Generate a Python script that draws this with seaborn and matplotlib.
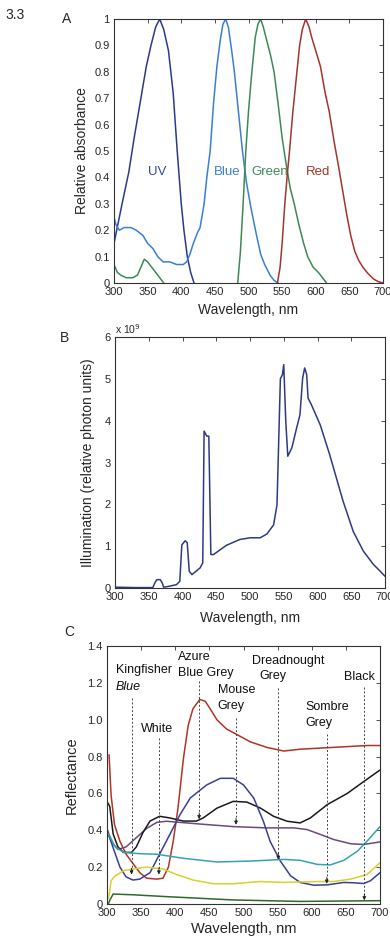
import matplotlib
matplotlib.use("Agg")
import matplotlib.pyplot as plt
import seaborn as sns
import pandas as pd

# ---------------- Panel A : relative absorbance ----------------
uv_nm = [300, 304, 312, 322, 330, 340, 348, 355, 362, 368, 374, 381, 388, 394, 400, 404, 409, 414, 419]
uv_val = [0.15, 0.2, 0.3, 0.42, 0.55, 0.7, 0.82, 0.9, 0.97, 1.0, 0.96, 0.88, 0.72, 0.5, 0.3, 0.2, 0.1, 0.04, 0.0]

blue_nm = [300, 303, 308, 315, 325, 333, 343, 350, 358, 365, 373, 383, 393, 403, 408, 413, 418, 424, 428,
           434, 438, 443, 448, 453, 458, 462, 466, 470, 475, 479, 485, 491, 497, 504, 512, 518, 524, 532, 538, 544]
blue_val = [0.25, 0.22, 0.2, 0.21, 0.21, 0.2, 0.18, 0.15, 0.13, 0.1, 0.08, 0.08, 0.07, 0.07, 0.08, 0.11, 0.15, 0.19, 0.21,
            0.3, 0.4, 0.5, 0.68, 0.82, 0.92, 0.98, 1.0, 0.97, 0.88, 0.8, 0.65, 0.5, 0.38, 0.28, 0.18, 0.11, 0.07, 0.03, 0.01, 0.0]

green_uv_nm = [300, 305, 310, 318, 328, 335, 340, 345, 350, 356, 362, 368, 374]
green_uv_val = [0.07, 0.04, 0.03, 0.02, 0.02, 0.03, 0.06, 0.09, 0.08, 0.06, 0.04, 0.02, 0.0]

green_nm = [484, 488, 492, 496, 500, 505, 510, 514, 518, 522, 527, 533, 538, 544, 550, 556, 562, 568, 575, 582, 588, 596, 604, 610, 616]
green_val = [0.0, 0.12, 0.3, 0.5, 0.65, 0.8, 0.93, 0.98, 1.0, 0.97, 0.92, 0.86, 0.8, 0.68, 0.55, 0.45, 0.36, 0.3, 0.22, 0.15, 0.1, 0.06, 0.04, 0.02, 0.0]

red_nm = [543, 547, 550, 554, 558, 561, 566, 572, 576, 580, 585, 590, 594, 600, 607, 614, 620, 627, 634, 640, 646,
          652, 658, 664, 670, 678, 686, 693, 700]
red_val = [0.0, 0.06, 0.15, 0.3, 0.42, 0.5, 0.65, 0.8, 0.9, 0.96, 1.0, 0.97, 0.93, 0.88, 0.82, 0.72, 0.65, 0.54, 0.44, 0.35, 0.26,
           0.18, 0.12, 0.085, 0.06, 0.035, 0.015, 0.005, 0.0]

pigment_names = ["UV", "Blue", "Green", "Red"]
pigment_label_nm = [364, 468, 531, 604]
a_yticks = [0, 0.1, 0.2, 0.3, 0.4, 0.5, 0.6, 0.7, 0.8, 0.9, 1]
a_yticklabels = ["0", "0.1", "0.2", "0.3", "0.4", "0.5", "0.6", "0.7", "0.8", "0.9", "1"]

# ---------------- Panel B : illumination (x 10^9) ----------------
illum_nm = [300, 330, 356, 359, 362, 367, 370, 372, 380, 391, 396, 399, 404, 407, 410, 414, 426, 430, 432,
            436, 439, 442, 446, 465, 485, 500, 515, 525, 535, 540, 543, 545, 548, 550, 553, 556, 562,
            569, 574, 578, 581, 584, 586, 591, 604, 618, 628, 638, 653, 668, 683, 693, 700]
illum_val = [0.02, 0.01, 0.01, 0.12, 0.2, 0.2, 0.12, 0.02, 0.04, 0.08, 0.16, 1.03, 1.13, 1.08, 0.4, 0.32, 0.48, 0.6, 3.75,
             3.63, 3.63, 0.8, 0.8, 1.02, 1.16, 1.2, 1.2, 1.29, 1.51, 1.99, 3.8, 5.0, 5.1, 5.34, 3.98, 3.15, 3.35,
             3.82, 4.14, 5.02, 5.26, 5.1, 4.54, 4.38, 3.9, 3.19, 2.63, 2.07, 1.35, 0.88, 0.56, 0.4, 0.28]

# ---------------- Panel C : reflectance ----------------
c_red_nm = [303, 306, 311, 319, 328, 338, 348, 358, 373, 382, 390, 397, 404, 412, 419, 426, 436, 444, 451, 461,
            475, 490, 510, 534, 559, 583, 632, 681, 700]
c_red_val = [0.81, 0.59, 0.43, 0.34, 0.27, 0.22, 0.17, 0.14, 0.135, 0.14, 0.2, 0.34, 0.52, 0.79, 0.97, 1.06, 1.11, 1.10, 1.06, 1.0,
             0.95, 0.92, 0.88, 0.85, 0.83, 0.84, 0.85, 0.86, 0.86]

c_black_nm = [301, 304, 309, 316, 324, 336, 343, 353, 363, 377, 392, 412, 431, 441, 461, 485, 505, 525, 544, 564,
              583, 598, 623, 652, 676, 700]
c_black_val = [0.55, 0.53, 0.38, 0.31, 0.28, 0.28, 0.31, 0.39, 0.45, 0.476, 0.467, 0.45, 0.45, 0.467, 0.52, 0.557, 0.553, 0.52, 0.476, 0.449,
               0.44, 0.467, 0.54, 0.6, 0.664, 0.727]

c_navy_nm = [301, 304, 309, 319, 328, 338, 348, 363, 377, 392, 407, 422, 446, 466, 485, 500, 515, 529, 539, 554,
             569, 583, 603, 623, 647, 662, 676, 686, 700]
c_navy_val = [0.38, 0.36, 0.305, 0.2, 0.147, 0.13, 0.135, 0.17, 0.27, 0.377, 0.485, 0.575, 0.646, 0.682, 0.682, 0.646, 0.575, 0.45, 0.34, 0.233,
              0.153, 0.117, 0.102, 0.104, 0.117, 0.115, 0.111, 0.126, 0.17]

c_purple_nm = [301, 306, 316, 328, 343, 358, 373, 387, 436, 485, 534, 574, 593, 613, 632, 657, 676, 700]
c_purple_val = [0.4, 0.34, 0.296, 0.31, 0.36, 0.41, 0.443, 0.449, 0.434, 0.42, 0.413, 0.413, 0.404, 0.377, 0.35, 0.327, 0.323, 0.337]

c_cyan_nm = [301, 304, 311, 324, 348, 373, 412, 461, 510, 559, 583, 608, 627, 647, 667, 681, 700]
c_cyan_val = [0.38, 0.37, 0.314, 0.28, 0.273, 0.27, 0.248, 0.228, 0.233, 0.242, 0.237, 0.215, 0.212, 0.237, 0.287, 0.341, 0.42]

c_yellow_nm = [302, 304, 306, 311, 324, 338, 358, 382, 402, 426, 456, 485, 525, 559, 608, 632, 657, 681, 700]
c_yellow_val = [0.03, 0.07, 0.126, 0.15, 0.18, 0.19, 0.2, 0.19, 0.16, 0.13, 0.11, 0.11, 0.122, 0.117, 0.122, 0.122, 0.135, 0.16, 0.224]

c_green_nm = [302, 304, 309, 338, 387, 485, 583, 700]
c_green_val = [0.0, 0.02, 0.054, 0.05, 0.04, 0.022, 0.014, 0.018]

c_yticks = [0, 0.2, 0.4, 0.6, 0.8, 1.0, 1.2, 1.4]
c_yticklabels = ["0", "0.2", "0.4", "0.6", "0.8", "1.0", "1.2", "1.4"]

# pointer lines: wavelength, top and bottom reflectance
ptr_nm = [336, 376, 435, 489, 551, 622, 677]
ptr_top = [1.12, 0.90, 1.21, 1.01, 1.17, 0.92, 1.18]
ptr_bot = [0.16, 0.16, 0.46, 0.43, 0.24, 0.11, 0.02]

# label texts (wavelength, reflectance, text, style)
lab_nm = [313, 313, 404, 404, 462, 462, 513, 523, 591, 591, 373, 670]
lab_val = [1.27, 1.18, 1.34, 1.255, 1.16, 1.075, 1.32, 1.235, 1.07, 0.98, 0.95, 1.23]
lab_txt = ["Kingfisher", "Blue", "Azure", "Blue Grey", "Mouse", "Grey", "Dreadnought", "Grey", "Sombre", "Grey", "White", "Black"]
lab_ha = ["left", "left", "left", "left", "left", "left", "left", "left", "left", "left", "center", "center"]
lab_style = ["normal", "italic"] + ["normal"] * 10

# ---------------- styling ----------------
sns.set_style("white")
plt.rcParams["font.family"] = ["Liberation Sans", "DejaVu Sans"]
plt.rcParams["xtick.direction"] = "in"
plt.rcParams["ytick.direction"] = "in"

W, H = 390, 946
fig = plt.figure(figsize=(W / 100, H / 100), dpi=100)


def add_ax(left, right, top, bottom):
    return fig.add_axes([left / W, 1 - bottom / H, (right - left) / W, (bottom - top) / H])


def style_ax(ax):
    for s in ax.spines.values():
        s.set_linewidth(0.8)
        s.set_color("#333333")
    ax.tick_params(axis="both", which="both", top=True, right=True, length=3, width=0.6,
                   labelsize=8, color="#333333", pad=3)


# Panel A
axA = add_ax(114, 383, 19, 283)
lw = 1.1
sns.lineplot(x=uv_nm, y=uv_val, ax=axA, color="#2b3a8f", lw=lw, sort=False)
sns.lineplot(x=blue_nm, y=blue_val, ax=axA, color="#3a7fd0", lw=lw, sort=False)
sns.lineplot(x=green_uv_nm, y=green_uv_val, ax=axA, color="#3d8a55", lw=lw, sort=False)
sns.lineplot(x=green_nm, y=green_val, ax=axA, color="#3d8a55", lw=lw, sort=False)
sns.lineplot(x=red_nm, y=red_val, ax=axA, color="#a3352a", lw=lw, sort=False)
txt_cols = ["#3a4a9a", "#3a7fd0", "#3d8a55", "#a3352a"]
for nm, name, c in zip(pigment_label_nm, pigment_names, txt_cols):
    axA.text(nm, 0.42, name, color=c, ha="center", va="center", fontsize=9.5)
axA.set_xlim(300, 700)
axA.set_ylim(0, 1)
axA.set_xticks(range(300, 701, 50))
axA.set_yticks(a_yticks)
axA.set_yticklabels(a_yticklabels)
axA.set_xlabel("Wavelength, nm", fontsize=10, labelpad=4)
axA.set_ylabel("Relative absorbance", fontsize=10, labelpad=4)
style_ax(axA)

# Panel B
axB = add_ax(115, 385, 337, 588)
sns.lineplot(x=illum_nm, y=illum_val, ax=axB, color="#2f3a85", lw=1.1, sort=False)
axB.set_xlim(300, 700)
axB.set_ylim(0, 6)
axB.set_xticks(range(300, 701, 50))
axB.set_yticks(range(0, 7))
axB.set_xlabel("Wavelength, nm", fontsize=10, labelpad=6)
axB.set_ylabel("Illumination (relative photon units)", fontsize=10, labelpad=7)
axB.text(0.0, 1.005, r"x 10$^9$", transform=axB.transAxes, fontsize=7.5, ha="left", va="bottom")
style_ax(axB)

# Panel C
axC = add_ax(107, 380, 646, 904)
clw = 1.1
sns.lineplot(x=c_red_nm, y=c_red_val, ax=axC, color="#b03525", lw=clw, sort=False)
sns.lineplot(x=c_purple_nm, y=c_purple_val, ax=axC, color="#6a4a78", lw=clw, sort=False)
sns.lineplot(x=c_black_nm, y=c_black_val, ax=axC, color="#1a1a1a", lw=clw, sort=False)
sns.lineplot(x=c_navy_nm, y=c_navy_val, ax=axC, color="#3a4092", lw=clw, sort=False)
sns.lineplot(x=c_cyan_nm, y=c_cyan_val, ax=axC, color="#35a3b5", lw=clw, sort=False)
sns.lineplot(x=c_yellow_nm, y=c_yellow_val, ax=axC, color="#d6d22e", lw=clw, sort=False)
sns.lineplot(x=c_green_nm, y=c_green_val, ax=axC, color="#2d6a2d", lw=clw, sort=False)
for nm, t, b in zip(ptr_nm, ptr_top, ptr_bot):
    axC.plot([nm, nm], [t, b + 0.02], ls=(0, (2, 2)), lw=0.7, color="#444444")
    axC.annotate("", xy=(nm, b), xytext=(nm, b + 0.035),
                 arrowprops=dict(arrowstyle="-|>", lw=0.6, color="#222222",
                                 mutation_scale=5, shrinkA=0, shrinkB=0))
for nm, v, t, ha, st in zip(lab_nm, lab_val, lab_txt, lab_ha, lab_style):
    axC.text(nm, v, t, ha=ha, va="center", fontsize=9, style=st, color="#111111")
axC.set_xlim(300, 700)
axC.set_ylim(0, 1.4)
axC.set_xticks(range(300, 701, 50))
axC.set_yticks(c_yticks)
axC.set_yticklabels(c_yticklabels)
axC.set_xlabel("Wavelength, nm", fontsize=10.5, labelpad=3)
axC.set_ylabel("Reflectance", fontsize=10.5, labelpad=6)
style_ax(axC)

# figure labels
fig.text(5 / W, 1 - 15 / H, "3.3", fontsize=10, va="center", ha="left")
fig.text(62 / W, 1 - 19 / H, "A", fontsize=10, va="center", ha="left")
fig.text(60 / W, 1 - 338 / H, "B", fontsize=10, va="center", ha="left")
fig.text(64 / W, 1 - 632 / H, "C", fontsize=10, va="center", ha="left")

fig.savefig("out.png", dpi=100, facecolor="white")
